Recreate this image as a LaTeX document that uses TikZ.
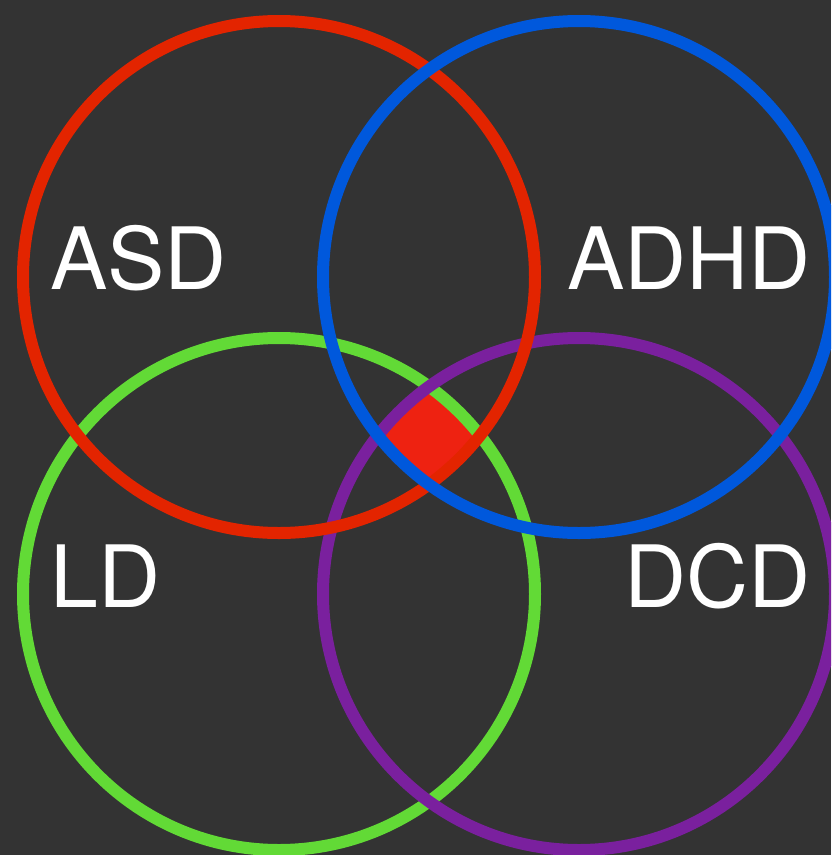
\documentclass[tikz,border=0pt]{standalone}
\usepackage{fontspec}
\setmainfont{TeX Gyre Heros}
\definecolor{bg}{RGB}{51,51,51}
\definecolor{cred}{RGB}{227,36,0}
\definecolor{cfill}{RGB}{238,34,17}
\definecolor{cblue}{RGB}{0,88,220}
\definecolor{cgreen}{RGB}{98,218,54}
\definecolor{cpurple}{RGB}{122,32,158}
\tikzset{
  ring/.style={line width=12pt},
  lbl/.style={text=white, font=\fontsize{86}{86}\selectfont, inner sep=0pt}
}
\begin{document}
\begin{tikzpicture}[x=1pt,y=-1pt]
\fill[bg] (0,0) rectangle (831,855);
\useasboundingbox (0,0) rectangle (831,855);
\clip (0,0) rectangle (831,855);
\coordinate (cA) at (279,277);
\coordinate (cB) at (579,277);
\coordinate (cL) at (279,594);
\coordinate (cD) at (579,594);
\begin{scope}
  \clip (cA) circle[radius=256];
  \clip (cB) circle[radius=256];
  \clip (cL) circle[radius=256];
  \fill[cfill] (cD) circle[radius=256];
\end{scope}
\draw[ring, cgreen] (cL) circle[radius=256];
\draw[ring, cpurple] (cD) circle[radius=256];
\draw[ring, cred] (cA) circle[radius=256];
\draw[ring, cblue] (cB) circle[radius=256];
\node[lbl, anchor=base west] (asd) at (50,289) {ASD};
\node[lbl, anchor=base east] (adhd) at (811,289) {ADHD};
\node[lbl, anchor=base west] (ld) at (50,607) {LD};
\node[lbl, anchor=base east] (dcd) at (811,607) {DCD};
\end{tikzpicture}
\end{document}
